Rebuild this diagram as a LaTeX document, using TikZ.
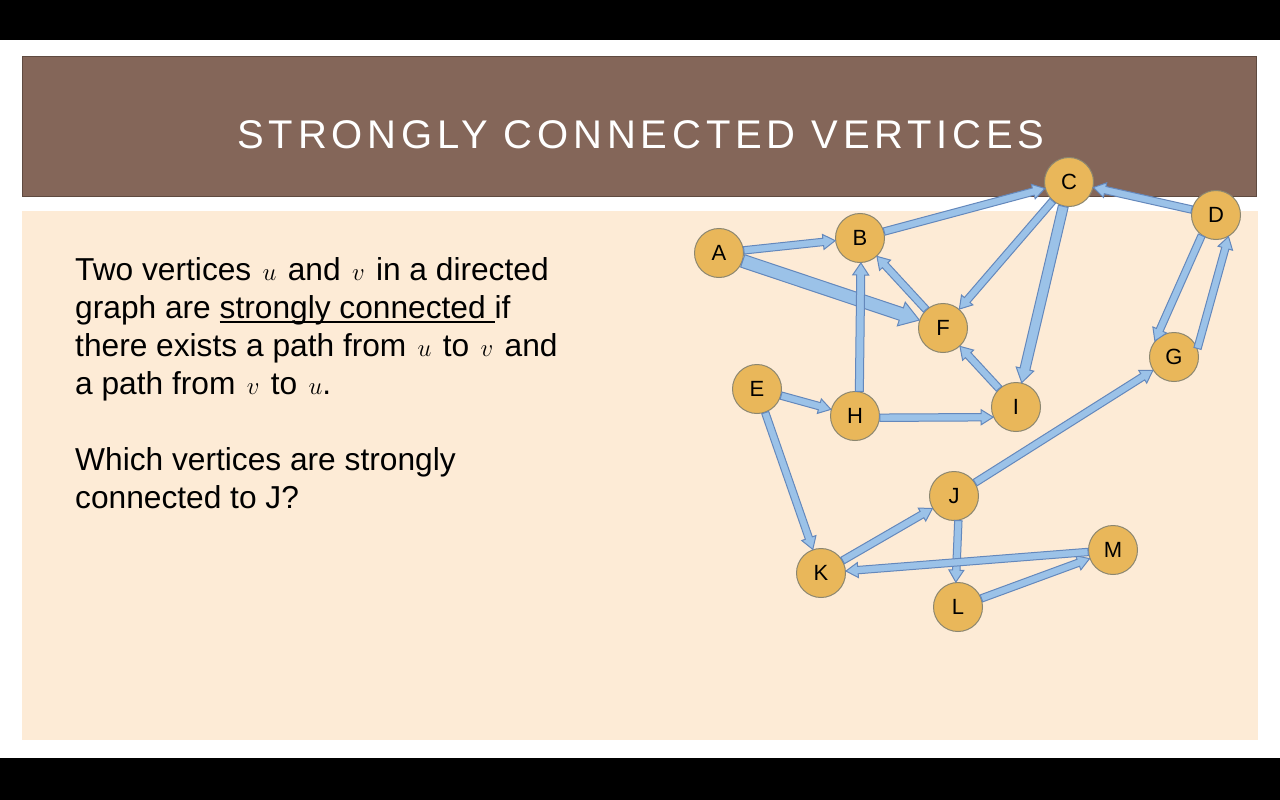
\documentclass[tikz,border=0pt]{standalone}
\usepackage{fontspec}
\setmainfont{Liberation Sans}
\newfontfamily\titlefont[LetterSpace=12]{Liberation Sans}
\usetikzlibrary{calc}

\definecolor{slidebrown}{RGB}{132,102,89}
\definecolor{browndark}{RGB}{95,74,64}
\definecolor{cream}{RGB}{253,235,214}
\definecolor{vfill}{RGB}{233,183,90}
\definecolor{vline}{RGB}{140,135,112}
\definecolor{afill}{RGB}{155,194,232}
\definecolor{aline}{RGB}{100,136,188}

% block arrow between two nodes:
% #1 from, #2 to, #3 half shaft width, #4 half head width, #5 head length
\newcommand\barr[5]{%
  \path (#1) -- (#2) coordinate[pos=0] (bs) coordinate[pos=1] (be);
  \coordinate (bh) at ($(be)!#5pt!(bs)$);
  \filldraw[blockarrow]
    ($(bs)!#3pt!-90:(be)$) -- ($(bh)!#3pt!-90:(be)$) -- ($(bh)!#4pt!-90:(be)$)
    -- (be)
    -- ($(bh)!#4pt!90:(be)$) -- ($(bh)!#3pt!90:(be)$) -- ($(bs)!#3pt!90:(be)$)
    -- cycle;
}
% underlined word with the rule through the descenders
\newcommand\ulword[1]{\setbox0\hbox{#1}\rlap{\rule[-5pt]{\wd0}{1.6pt}}\box0}
% italic variable set a little larger, with some air around it
\newcommand\mv[1]{\hspace{2.5pt}{\fontsize{34}{34}\selectfont$#1$}\hspace{2.5pt}}

\tikzset{
  vert/.style={circle, fill=vfill, draw=vline, line width=1pt,
    minimum size=49pt, inner sep=0pt, font=\fontsize{22}{22}\selectfont},
  blockarrow/.style={fill=afill, draw=aline, line width=1pt, line join=miter},
  bodyline/.style={anchor=base west, inner sep=0pt,
    font=\fontsize{31.7}{32}\selectfont},
}

\begin{document}
\begin{tikzpicture}[x=1pt, y=-1pt]
  \useasboundingbox (0,0) rectangle (1280,800);
  % screen and slide
  \fill[black] (0,0) rectangle (1280,800);
  \fill[white] (0,40) rectangle (1280,758);
  \filldraw[fill=slidebrown, draw=browndark, line width=0.8pt] (22,56) rectangle (1256,196);
  \fill[cream] (22,211) rectangle (1258,740);

  % title
  \node[text=white, inner sep=0pt, font=\titlefont\fontsize{40}{40}\selectfont]
    (title) at (641,135) {STRONGLY CONNECTED VERTICES};

  % body text
  \node[bodyline] (l1) at (75,280) {Two vertices \mv{u} and \mv{v} in a directed};
  \node[bodyline] (l2) at (75,318) {graph are \ulword{strongly connected\ }if};
  \node[bodyline] (l3) at (75,356) {there exists a path from \mv{u} to \mv{v} and};
  \node[bodyline] (l4) at (75,394) {a path from \mv{v} to \mv{u}\hspace{-2.5pt}.};
  \node[bodyline] (l5) at (75,470) {Which vertices are strongly};
  \node[bodyline] (l6) at (75,508) {connected to J?};

  % vertices
  \node[vert] (A) at (719,253) {A};
  \node[vert] (B) at (860,238) {B};
  \node[vert] (C) at (1069,182) {C};
  \node[vert] (D) at (1216,215) {D};
  \node[vert] (F) at (943,328) {F};
  \node[vert] (G) at (1174,357) {G};
  \node[vert] (E) at (757,389) {E};
  \node[vert] (H) at (855,416) {H};
  \node[vert] (I) at (1016,407) {I};
  \node[vert] (J) at (954,496) {J};
  \node[vert] (K) at (821,573) {K};
  \node[vert] (M) at (1113,550) {M};
  \node[vert] (L) at (958,607) {L};

  % edges
  \barr{A}{B}{3.7}{7.5}{12}
  \barr{A}{F}{6.5}{12.5}{19}
  \barr{B}{C}{3.7}{7.5}{12}
  \barr{F}{B}{3.7}{7.5}{12}
  \barr{C}{F}{3.7}{7.5}{12}
  \barr{C}{I}{5}{9}{14}
  \barr{D}{C}{3.7}{7.5}{12}
  \barr{D.235}{G.140}{3.7}{7.5}{12}
  \barr{G.20}{D.300}{3.7}{7.5}{12}
  \barr{I}{F}{3.7}{7.5}{12}
  \barr{H.80}{B.-88}{4}{8}{12}
  \barr{E}{H}{3.7}{7.5}{12}
  \barr{H.-4}{I.204}{3.7}{7.5}{12}
  \barr{E}{K}{3.7}{7.5}{12}
  \barr{K}{J}{3.7}{7.5}{12}
  \barr{J}{G}{3.7}{7.5}{12}
  \barr{J.-80}{L.95}{3.7}{7.5}{12}
  \barr{L}{M}{3.7}{7.5}{12}
  \barr{M}{K}{3.7}{7.5}{12}
\end{tikzpicture}
\end{document}
